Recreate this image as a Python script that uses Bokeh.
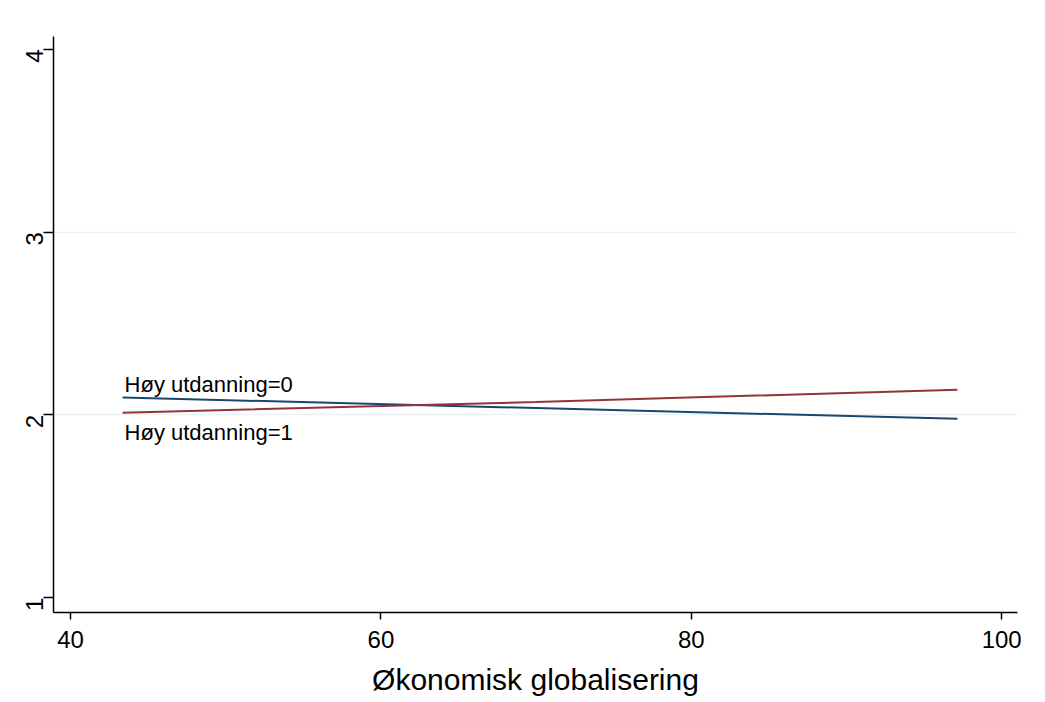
import math
from bokeh.plotting import figure
from bokeh.models import FixedTicker, Range1d, ColumnDataSource
from bokeh.core.properties import value
from bokeh.embed import file_html
from bokeh.resources import INLINE

# ---- data ----
x_globalisering = [43.35, 70.0, 97.15]
y_utdanning0 = [2.095, 2.037, 1.978]
y_utdanning1 = [2.012, 2.070, 2.138]
series_labels = ["Høy utdanning=0", "Høy utdanning=1"]
x_ticks = [40, 60, 80, 100]
y_ticks = [1, 2, 3, 4]
y_grid = [2, 3]
x_title = "Økonomisk globalisering"

FONT = "Liberation Sans"
BLUE = "#1a476f"
RED = "#90353b"

p = figure(
    frame_width=964, frame_height=576,
    min_border_left=53, min_border_top=36, min_border_right=12, min_border_bottom=80,
    x_range=Range1d(38.9, 101.02), y_range=Range1d(0.918, 4.071),
    output_backend="svg", toolbar_location=None,
)
p.outline_line_color = None
p.background_fill_color = "white"
p.border_fill_color = "white"

p.line(x_globalisering, y_utdanning0, line_color=BLUE, line_width=2)
p.line(x_globalisering, y_utdanning1, line_color=RED, line_width=2)

lab_src = ColumnDataSource(dict(
    x=[x_globalisering[0], x_globalisering[0]],
    y=[y_utdanning0[0], y_utdanning1[0]],
    t=series_labels,
    yo=[-13, 20],
))
p.text(x="x", y="y", text="t", source=lab_src, x_offset=2, y_offset="yo",
       text_font=value(FONT), text_font_size="22px", text_color="black",
       text_baseline="alphabetic", text_align="left")

# axes
for ax in (p.xaxis[0], p.yaxis[0]):
    ax.axis_line_color = "black"
    ax.axis_line_width = 1.5
    ax.major_tick_line_color = "black"
    ax.major_tick_line_width = 1.5
    ax.minor_tick_line_color = None
    ax.major_tick_in = 0
    ax.major_label_text_font = FONT
    ax.major_label_text_font_size = "24px"
    ax.major_label_text_color = "black"

p.xaxis.ticker = FixedTicker(ticks=x_ticks)
p.xaxis.major_tick_out = 7
p.xaxis.major_label_standoff = 11
p.xaxis.axis_label = x_title
p.xaxis.axis_label_text_font = FONT
p.xaxis.axis_label_text_font_size = "30px"
p.xaxis.axis_label_text_font_style = "normal"
p.xaxis.axis_label_text_color = "black"
p.xaxis.axis_label_standoff = 12

p.yaxis.ticker = FixedTicker(ticks=y_ticks)
p.yaxis.major_tick_out = 10
p.yaxis.major_label_standoff = 9
p.yaxis.major_label_orientation = math.pi / 2

p.xgrid.visible = False
p.ygrid.ticker = FixedTicker(ticks=y_grid)
p.ygrid.grid_line_color = "#eaf2f3"
p.ygrid.grid_line_width = 1.5

open("out.html", "w").write(file_html(p, INLINE))
